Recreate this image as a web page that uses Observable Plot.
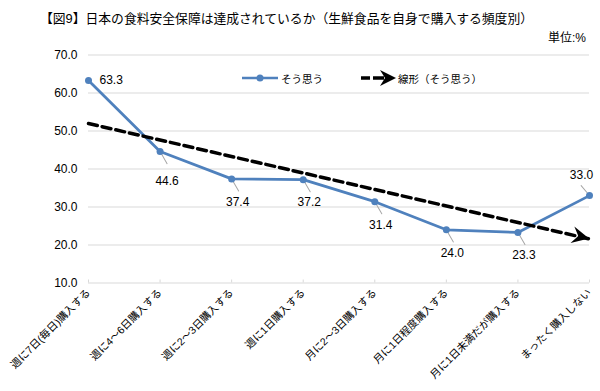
<!DOCTYPE html>
<html><head><meta charset="utf-8">
<script src="https://cdn.jsdelivr.net/npm/d3@7"></script>
<script src="https://cdn.jsdelivr.net/npm/@observablehq/plot@0.6"></script>
<style>
body{margin:0;background:#fff;font-family:"Liberation Sans","Noto Sans CJK JP",sans-serif;}
#wrap{position:relative;width:600px;height:391px;overflow:hidden;}
#title{position:absolute;left:40px;top:8px;font-size:12.8px;white-space:nowrap;color:#000;}
#unit{position:absolute;right:14px;top:28px;font-size:12px;color:#000;}
#chart{position:absolute;left:0;top:0;}
#legend{position:absolute;left:242px;top:69px;font-size:10.5px;display:flex;align-items:center;color:#000;white-space:nowrap;}
#legend span{display:inline-flex;align-items:center;}
[aria-label^="y-axis"]{font-size:12px;}
</style></head>
<body>
<div id="wrap">
  <div id="chart"></div>
  <div id="title">【図9】日本の食料安全保障は達成されているか（生鮮食品を自身で購入する頻度別）</div>
  <div id="unit">単位:%</div>
  <div id="legend">
    <span><svg width="39" height="14"><line x1="0" y1="7" x2="36" y2="7" stroke="#4f81bd" stroke-width="2.5"/><circle cx="18" cy="7" r="3.5" fill="#4f81bd"/></svg><span id="lg1"></span></span>
    <span style="margin-left:37px"><svg width="38" height="18"><line x1="1" y1="9" x2="10" y2="9" stroke="#000" stroke-width="3.5"/><line x1="13" y1="9" x2="24" y2="9" stroke="#000" stroke-width="3.5"/><path d="M36,9 L20,1 L25,9 L20,17 Z" fill="#000"/></svg><span id="lg2"></span></span>
  </div>
</div>
<script>
const categories = ["週に7日(毎日)購入する","週に4〜6日購入する","週に2〜3日購入する","週に1日購入する","月に2〜3日購入する","月に1日程度購入する","月に1日未満だが購入する","まったく購入しない"];
const values = [63.3, 44.6, 37.4, 37.2, 31.4, 24.0, 23.3, 33.0];
const yTicks = [10, 20, 30, 40, 50, 60, 70];
const seriesName = "そう思う";
const trendName = "線形（そう思う）";

document.getElementById("lg1").textContent = seriesName;
document.getElementById("lg2").textContent = trendName;

const data = values.map((v, i) => ({i, cat: categories[i], v}));

// least-squares linear trend (as Excel's linear trendline)
const n = values.length;
const mx = d3.mean(data, d => d.i), my = d3.mean(values);
const slope = d3.sum(data, d => (d.i - mx) * (d.v - my)) / d3.sum(data, d => (d.i - mx) ** 2);
const icpt = my - slope * mx;
const trend = [0, n - 1].map(i => ({i, v: icpt + slope * i}));

const blue = "#4f81bd";
const grey = "#a6a6a6";
const leader = {draw(ctx, l) { ctx.moveTo(0, -3); ctx.lineTo(0, -l); }};

function arrowHead(index, scales) {
  const a = trend[0], b = trend[1];
  const x0 = scales.x(a.i), y0 = scales.y(a.v), x1 = scales.x(b.i), y1 = scales.y(b.v);
  const ang = Math.atan2(y1 - y0, x1 - x0) * 180 / Math.PI;
  const g = d3.create("svg:g");
  g.append("path")
    .attr("d", "M0,0 L-17,-8.5 L-11,0 L-17,8.5 Z")
    .attr("fill", "#000")
    .attr("transform", `translate(${x1},${y1}) rotate(${ang})`);
  return g.node();
}

const chart = Plot.plot({
  width: 600,
  height: 391,
  marginTop: 54.5,
  marginBottom: 108.5,
  marginLeft: 88,
  marginRight: 11,
  style: {fontFamily: "'Liberation Sans','Noto Sans CJK JP',sans-serif", fontSize: "10.5px", color: "#000", background: "#fff"},
  x: {domain: [0, n - 1], ticks: d3.range(n), tickFormat: i => categories[i], tickRotate: -45, tickSize: 0, tickPadding: 8, label: null},
  y: {domain: [10, 70], ticks: yTicks, tickFormat: d => d.toFixed(1), tickSize: 0, tickPadding: 11, label: null},
  marks: [
    Plot.ruleY(yTicks, {y: d => d, stroke: "#d9d9d9", strokeWidth: 1}),
    Plot.ruleX(d3.range(n), {x: d => d, y1: 10, y2: 10, stroke: "#d9d9d9", insetTop: -3}),
    Plot.vector(data, {filter: d => d.i >= 1 && d.i <= 6, x: "i", y: "v", length: 14, rotate: 150, anchor: "start", shape: leader, stroke: grey, strokeWidth: 1}),
    Plot.vector(data, {filter: d => d.i === 7, x: "i", y: "v", length: 13, rotate: -40, anchor: "start", shape: leader, stroke: grey, strokeWidth: 1}),
    Plot.line(data, {x: "i", y: "v", stroke: blue, strokeWidth: 2.75}),
    Plot.dot(data, {x: "i", y: "v", r: 3.5, fill: blue}),
    Plot.line(trend, {x: "i", y: "v", stroke: "#000", strokeWidth: 3.5, strokeDasharray: "9,5"}),
    arrowHead,
    Plot.text(data, {filter: d => d.i === 0, x: "i", y: "v", text: d => d.v.toFixed(1), textAnchor: "start", dx: 11, fontSize: 12}),
    Plot.text(data, {filter: d => d.i === 1, x: "i", y: "v", text: d => d.v.toFixed(1), dx: 7, dy: 30, fontSize: 12}),
    Plot.text(data, {filter: d => d.i >= 2 && d.i <= 6, x: "i", y: "v", text: d => d.v.toFixed(1), dx: 6, dy: 23, fontSize: 12}),
    Plot.text(data, {filter: d => d.i === 7, x: "i", y: "v", text: d => d.v.toFixed(1), dx: -8, dy: -20, fontSize: 12})
  ]
});
document.getElementById("chart").appendChild(chart);
</script>
</body></html>
